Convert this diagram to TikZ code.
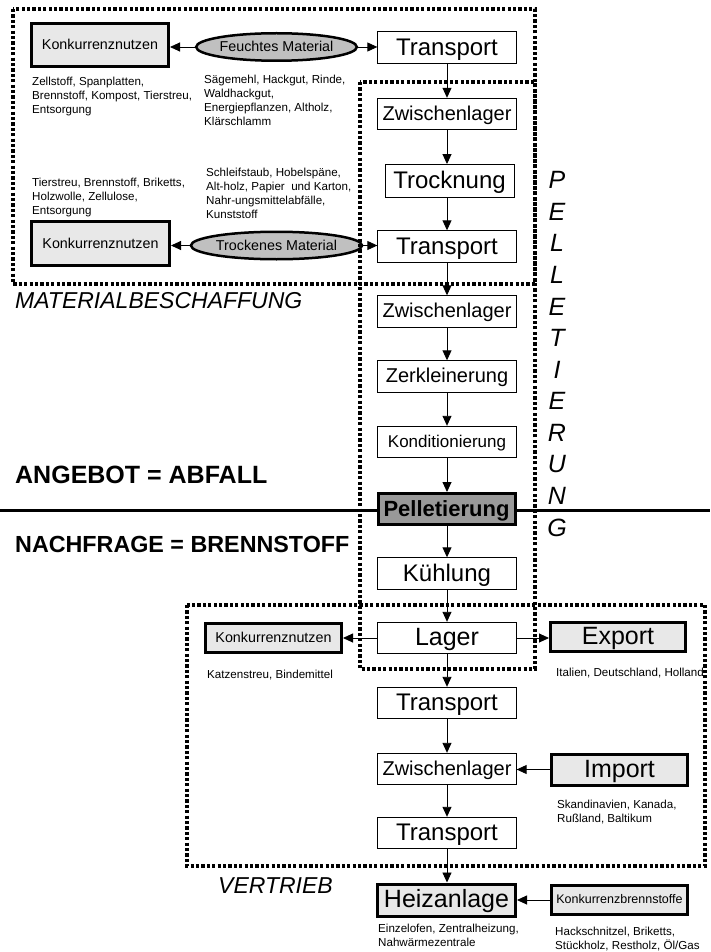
\documentclass[tikz,border=0pt]{standalone}
\usepackage{fontspec}
\setmainfont{Liberation Sans}
\usetikzlibrary{shapes.geometric,arrows.meta}
\definecolor{lightfill}{HTML}{E8E8E8}
\definecolor{ovalfill}{HTML}{C0C0C0}
\definecolor{pelfill}{HTML}{999999}
\begin{document}
\begin{tikzpicture}[x=1pt,y=-1pt,
  fs/.style={font=\fontsize{#1}{#1}\selectfont, text height=0.716*#1pt, text depth=0.08*#1pt},
  proc/.style={draw, line width=0.9pt, fill=white, minimum width=138.4pt, minimum height=31.5pt, inner sep=0pt},
  heavy/.style={draw, line width=3pt, fill=lightfill, inner sep=0pt},
  oval/.style={ellipse, draw, line width=2.5pt, fill=ovalfill, minimum width=140.5pt, minimum height=27.5pt, inner sep=0pt},
  flow/.style={-{Triangle[length=10pt,width=9pt]}, line width=0.9pt},
  frame/.style={line width=3.2pt, dash pattern=on 3.2pt off 2.2pt},
  note/.style={font=\fontsize{11.6}{14}\selectfont, align=left, anchor=north west, inner sep=0pt},
  big/.style={font=\fontsize{23}{28}\selectfont\itshape, anchor=base west, inner sep=0pt},
  head/.style={font=\fontsize{#1}{28}\selectfont\bfseries, anchor=base west, inner sep=0pt}]
\useasboundingbox (0,0) rectangle (710,952);

% divider line
\coordinate (ll) at (0,510);
\coordinate (lr) at (710,510);
\draw[line width=3pt] (ll) -- (lr);

% main column
\node[proc, fs=24] (t1) at (447,47.5) {Transport};
\node[proc, fs=20] (z1) at (447,114) {Zwischenlager};
\node[proc, fs=24, minimum width=129pt, minimum height=33pt] (tr) at (449.5,181) {Trocknung};
\node[proc, fs=24] (t2) at (447,246.5) {Transport};
\node[proc, fs=20] (z2) at (447,311.5) {Zwischenlager};
\node[proc, fs=20] (zk) at (447,376.5) {Zerkleinerung};
\node[proc, fs=17] (ko) at (447,442) {Konditionierung};
\node[heavy, fill=pelfill, minimum width=137pt, minimum height=31pt, font=\fontsize{22}{22}\selectfont\bfseries, text height=15.8pt, text depth=1.6pt] (pe) at (446.5,509) {Pelletierung};
\node[proc, fs=24] (ku) at (447,573.5) {Kühlung};
\node[proc, fs=25] (la) at (447,638) {Lager};
\node[proc, fs=24] (t3) at (447,703) {Transport};
\node[proc, fs=20] (z3) at (447,769) {Zwischenlager};
\node[proc, fs=24] (t4) at (447,833) {Transport};
\node[heavy, minimum width=138pt, minimum height=32pt, fs=25] (he) at (446.5,900) {Heizanlage};

% side nodes
\node[heavy, minimum width=137pt, minimum height=43pt, fs=14.3] (kn1) at (100,45.3) {Konkurrenznutzen};
\node[oval, fs=14.3] (fm) at (276.5,47) {Feuchtes Material};
\node[heavy, minimum width=138pt, minimum height=44pt, fs=14.3] (kn2) at (100.5,243.5) {Konkurrenznutzen};
\node[oval, fs=14.3] (tm) at (276.5,245.5) {Trockenes Material};
\node[heavy, minimum width=136pt, minimum height=29pt, fs=14.3] (kn3) at (273.5,638) {Konkurrenznutzen};
\node[heavy, minimum width=135pt, minimum height=29pt, fs=25] (ex) at (618,637) {Export};
\node[heavy, minimum width=136pt, minimum height=31pt, fs=25] (im) at (619.5,769.5) {Import};
\node[heavy, minimum width=136pt, minimum height=29pt, fs=12.5] (kb) at (619.5,900) {Konkurrenzbrennstoffe};

% vertical flow
\foreach \a/\b in {t1/z1,z1/tr,tr/t2,t2/z2,z2/zk,zk/ko,ko/pe,pe/ku,ku/la,la/t3,t3/z3,z3/t4,t4/he}
  \draw[flow] (\a.south -| t1.south) -- (t1.south |- \b.north);

% side arrows
\draw[flow] (fm.west) -- (fm.west -| kn1.east);
\draw[flow] (fm.east) -- (fm.east -| t1.west);
\draw[flow] (tm.west) -- (tm.west -| kn2.east);
\draw[flow] (tm.east) -- (tm.east -| t2.west);
\draw[flow] (la.west) -- (la.west -| kn3.east);
\draw[flow] (la.east) -- (la.east -| ex.west);
\draw[flow] (im.west) -- (im.west -| z3.east);
\draw[flow] (kb.west) -- (kb.west -| he.east);

% notes
\node[note] (n1) at (32,76.6) {Zellstoff, Spanplatten,\\Brennstoff, Kompost, Tierstreu,\\Entsorgung};
\node[note] (n2) at (204,74.6) {Sägemehl, Hackgut, Rinde,\\Waldhackgut,\\Energiepflanzen, Altholz,\\Klärschlamm};
\node[note] (n3) at (32,177.6) {Tierstreu, Brennstoff, Briketts,\\Holzwolle, Zellulose,\\Entsorgung};
\node[note] (n4) at (206,167.6) {Schleifstaub, Hobelspäne,\\Alt-holz, Papier\ \ und Karton,\\Nahr-ungsmittelabfälle,\\Kunststoff};
\node[note] (n5) at (207,669.6) {Katzenstreu, Bindemittel};
\node[note] (n6) at (556,667.6) {Italien, Deutschland, Holland};
\node[note] (n7) at (557,799.6) {Skandinavien, Kanada,\\Rußland, Baltikum};
\node[note] (n8) at (378,924) {Einzelofen, Zentralheizung,\\Nahwärmezentrale};
\node[note] (n9) at (555,927) {Hackschnitzel, Briketts,\\Stückholz, Restholz, Öl/Gas};

% big labels
\node[big] (mb) at (15,308) {MATERIALBESCHAFFUNG};
\node[big] (vt) at (218,893) {VERTRIEB};
\node[head=25] (ang) at (15,483) {ANGEBOT = ABFALL};
\node[head=23.3] (nach) at (15,552) {NACHFRAGE = BRENNSTOFF};
\foreach \ch [count=\i from 0] in {P,E,L,L,E,T,I,E,R,U,N,G}
  \node[font=\fontsize{25}{25}\selectfont\itshape, inner sep=0pt] (pl\i) at (557,180+31.6*\i) {\ch};

% frames
\draw[frame] (13,9) rectangle (535,284);
\draw[frame] (360,82) rectangle (535,669);
\draw[frame] (187,605) rectangle (705,866);
\end{tikzpicture}
\end{document}
